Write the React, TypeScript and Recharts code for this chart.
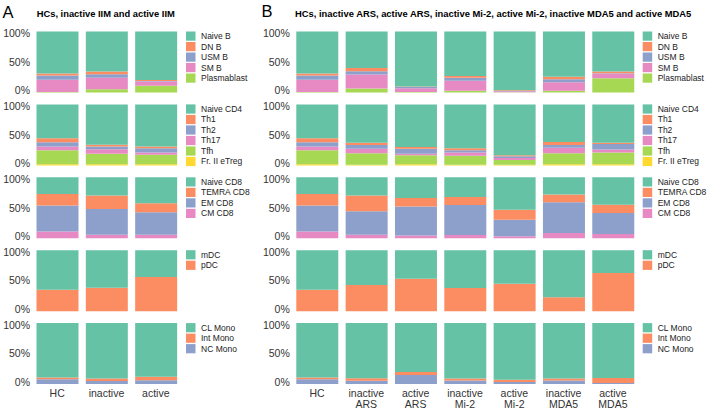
import React from "react";
import { BarChart, Bar, XAxis, YAxis } from "recharts";

const SET2 = ["#66C2A5", "#FC8D62", "#8DA0CB", "#E78AC3", "#A6D854", "#FFD92F"];
const FONT = "'Liberation Sans', Arial, Helvetica, sans-serif";

const catsA = ["HC", "inactive", "active"];
const catsB = ["HC", "inactive\nARS", "active\nARS", "inactive\nMi-2", "active\nMi-2", "inactive\nMDA5", "active\nMDA5"];

const bNames = ["Naive B", "DN B", "USM B", "SM B", "Plasmablast"];
const cd4Names = ["Naive CD4", "Th1", "Th2", "Th17", "Tfh", "Fr. II eTreg"];
const cd8Names = ["Naive CD8", "TEMRA CD8", "EM CD8", "CM CD8"];
const dcNames = ["mDC", "pDC"];
const monoNames = ["CL Mono", "Int Mono", "NC Mono"];

// series-major: one inner array per subset (legend order), one value per category (%)
const bCellsA = [
  [69, 65.5, 79.5],
  [3, 4.5, 1.5],
  [7, 6, 1],
  [20, 18.5, 7],
  [1, 5.5, 11],
];
const bCellsB = [
  [69, 60, 90, 73, 96.5, 74, 65.6],
  [3, 5, 1, 3, 1, 4.3, 2.7],
  [7, 5.6, 2, 4.6, 0.5, 5, 1.1],
  [20, 22.7, 6, 16.4, 1.5, 13.7, 7.3],
  [1, 6.7, 1, 3, 0.5, 3, 23.3],
];
const cd4A = [
  [55.4, 66, 69],
  [6.6, 3, 3],
  [7, 4.4, 7],
  [6, 7.6, 3.6],
  [23, 17, 15.4],
  [2, 2, 2],
];
const cd4B = [
  [55.4, 63, 70, 72, 83.5, 61.7, 62.8],
  [6.6, 3.5, 2.5, 3, 1.5, 5, 2.2],
  [7, 6, 8.5, 4, 3, 4.4, 9],
  [6, 7.5, 2.5, 5, 3, 8.9, 5],
  [23, 19, 14.5, 15, 8, 18.3, 19.3],
  [2, 1, 2, 1, 1, 1.7, 1.7],
];
const cd8A = [
  [27.2, 30, 42.6],
  [19.2, 22, 14.8],
  [42.6, 42, 36.6],
  [11, 6, 6],
];
const cd8B = [
  [27.2, 30, 33.8, 32.2, 53, 28.2, 45],
  [19.2, 25.7, 14.2, 13.1, 16.4, 12.8, 13.4],
  [42.6, 38.3, 47.6, 49.2, 27.3, 50.2, 34.4],
  [11, 6, 4.4, 5.5, 3.3, 8.8, 7.2],
];
const dcA = [
  [65, 61.5, 44],
  [35, 38.5, 56],
];
const dcB = [
  [65, 57.2, 46.6, 62.1, 55, 77, 37.4],
  [35, 42.8, 53.4, 37.9, 45, 23, 62.6],
];
const monoA = [
  [89, 91, 88],
  [3, 4, 5.5],
  [8, 5, 6.5],
];
const monoB = [
  [89, 90.5, 80, 90.7, 92.9, 91, 90.2],
  [3, 4.2, 5, 3.3, 3.8, 3, 8.2],
  [8, 5.3, 15, 6, 3.3, 6, 1.6],
];

const yTicks = [0, 0.5, 1];

const ROW_TOP0 = 31.5;
const ROW_PITCH = 72.9;
const ROW_H = 61;
const BAND = 49.33;
const AXIS_W = 40;
const PAD = 6;
const X_AXIS_H = 30;

function YTick(props: any) {
  const { x, y, payload } = props;
  const v = payload.value;
  return (
    <text x={x} y={y + (v - 0.5) * 4} dy="0.355em" textAnchor="end" fontSize={10.5} fill="#333" fontFamily={FONT}>
      {Math.round(v * 100) + "%"}
    </text>
  );
}

function XTick(props: any) {
  const { x, y, payload } = props;
  const lines = String(payload.value).split("\n");
  return (
    <text x={x} y={y + 12.8} textAnchor="middle" fontSize={10.5} fill="#333" fontFamily={FONT}>
      {lines.map((l, i) => (
        <tspan key={i} x={x} dy={i === 0 ? 0 : 11.2}>
          {l}
        </tspan>
      ))}
    </text>
  );
}

function StackRow(props: { cats: string[]; names: string[]; series: number[][]; plotLeft: number; row: number; showX?: boolean }) {
  const { cats, names, series, plotLeft, row, showX } = props;
  const data = cats.map((c, i) => {
    const d: any = { cat: c };
    series.forEach((s, j) => (d["s" + j] = s[i]));
    return d;
  });
  const top = ROW_TOP0 + row * ROW_PITCH;
  const divLeft = Math.floor(plotLeft - AXIS_W);
  const divTop = Math.floor(top - PAD);
  const axisW = plotLeft - divLeft;
  const mTop = top - divTop;
  const plotW = cats.length * BAND;
  const width = Math.ceil(axisW + plotW + 4);
  const mRight = width - axisW - plotW;
  const height = Math.round(mTop + ROW_H + (showX ? X_AXIS_H : PAD));
  const mBottom = showX ? height - mTop - ROW_H - X_AXIS_H : height - mTop - ROW_H;
  const order = names.map((_, j) => j).reverse();
  return (
    <div style={{ position: "absolute", left: divLeft, top: divTop }}>
      <BarChart width={width} height={height} data={data} stackOffset="expand" barSize={42} margin={{ top: mTop, right: mRight, left: 0, bottom: mBottom }}>
        <XAxis dataKey="cat" hide={!showX} height={X_AXIS_H} axisLine={false} tickLine={false} tickSize={0} tickMargin={0} interval={0} tick={<XTick />} />
        <YAxis type="number" domain={[0, 1]} ticks={yTicks} width={axisW} axisLine={false} tickLine={false} tickSize={0} tickMargin={2.5} interval={0} tick={<YTick />} />
        {order.map((j) => (
          <Bar key={j} dataKey={"s" + j} name={names[j]} stackId="a" fill={SET2[j]} isAnimationActive={false} />
        ))}
      </BarChart>
    </div>
  );
}

function LegendBlock(props: { names: string[]; x: number; row: number }) {
  const { names, x, row } = props;
  const top = ROW_TOP0 + row * ROW_PITCH;
  return (
    <g>
      {names.map((n, i) => (
        <g key={n}>
          <rect x={x} y={top + i * 10.5} width={9.5} height={9.2} fill={SET2[i]} />
          <text x={x + 15} y={top + i * 10.5 + 4.6} dy="0.35em" fontSize={8.5} fill="#222" fontFamily={FONT}>
            {n}
          </text>
        </g>
      ))}
    </g>
  );
}

const rowsA = [
  { names: bNames, series: bCellsA },
  { names: cd4Names, series: cd4A },
  { names: cd8Names, series: cd8A },
  { names: dcNames, series: dcA },
  { names: monoNames, series: monoA },
];
const rowsB = [
  { names: bNames, series: bCellsB },
  { names: cd4Names, series: cd4B },
  { names: cd8Names, series: cd8B },
  { names: dcNames, series: dcB },
  { names: monoNames, series: monoB },
];

const PLOT_LEFT_A = 32.5;
const PLOT_LEFT_B = 292.3;
const LEG_X_A = 186;
const LEG_X_B = 642.7;

export default function App() {
  return (
    <div style={{ position: "absolute", left: 0, top: 0, width: 709, height: 411, background: "#fff", overflow: "hidden" }}>
      {rowsA.map((r, i) => (
        <StackRow key={"a" + i} cats={catsA} names={r.names} series={r.series} plotLeft={PLOT_LEFT_A} row={i} showX={i === 4} />
      ))}
      {rowsB.map((r, i) => (
        <StackRow key={"b" + i} cats={catsB} names={r.names} series={r.series} plotLeft={PLOT_LEFT_B} row={i} showX={i === 4} />
      ))}
      <svg width={709} height={411} style={{ position: "absolute", left: 0, top: 0, pointerEvents: "none" }}>
        <text x={2.5} y={17.5} fontSize={16.5} fill="#000" fontFamily={FONT}>A</text>
        <text x={36.7} y={16.8} fontSize={9.35} fontWeight="bold" fill="#000" fontFamily={FONT}>
          HCs, inactive IIM and active IIM
        </text>
        <text x={261.5} y={17} fontSize={16.5} fill="#000" fontFamily={FONT}>B</text>
        <text x={295} y={16.8} fontSize={9.4} fontWeight="bold" fill="#000" fontFamily={FONT}>
          HCs, inactive ARS, active ARS, inactive Mi-2, active Mi-2, inactive MDA5 and active MDA5
        </text>
        {rowsA.map((r, i) => (
          <LegendBlock key={"la" + i} names={r.names} x={LEG_X_A} row={i} />
        ))}
        {rowsB.map((r, i) => (
          <LegendBlock key={"lb" + i} names={r.names} x={LEG_X_B} row={i} />
        ))}
      </svg>
    </div>
  );
}
